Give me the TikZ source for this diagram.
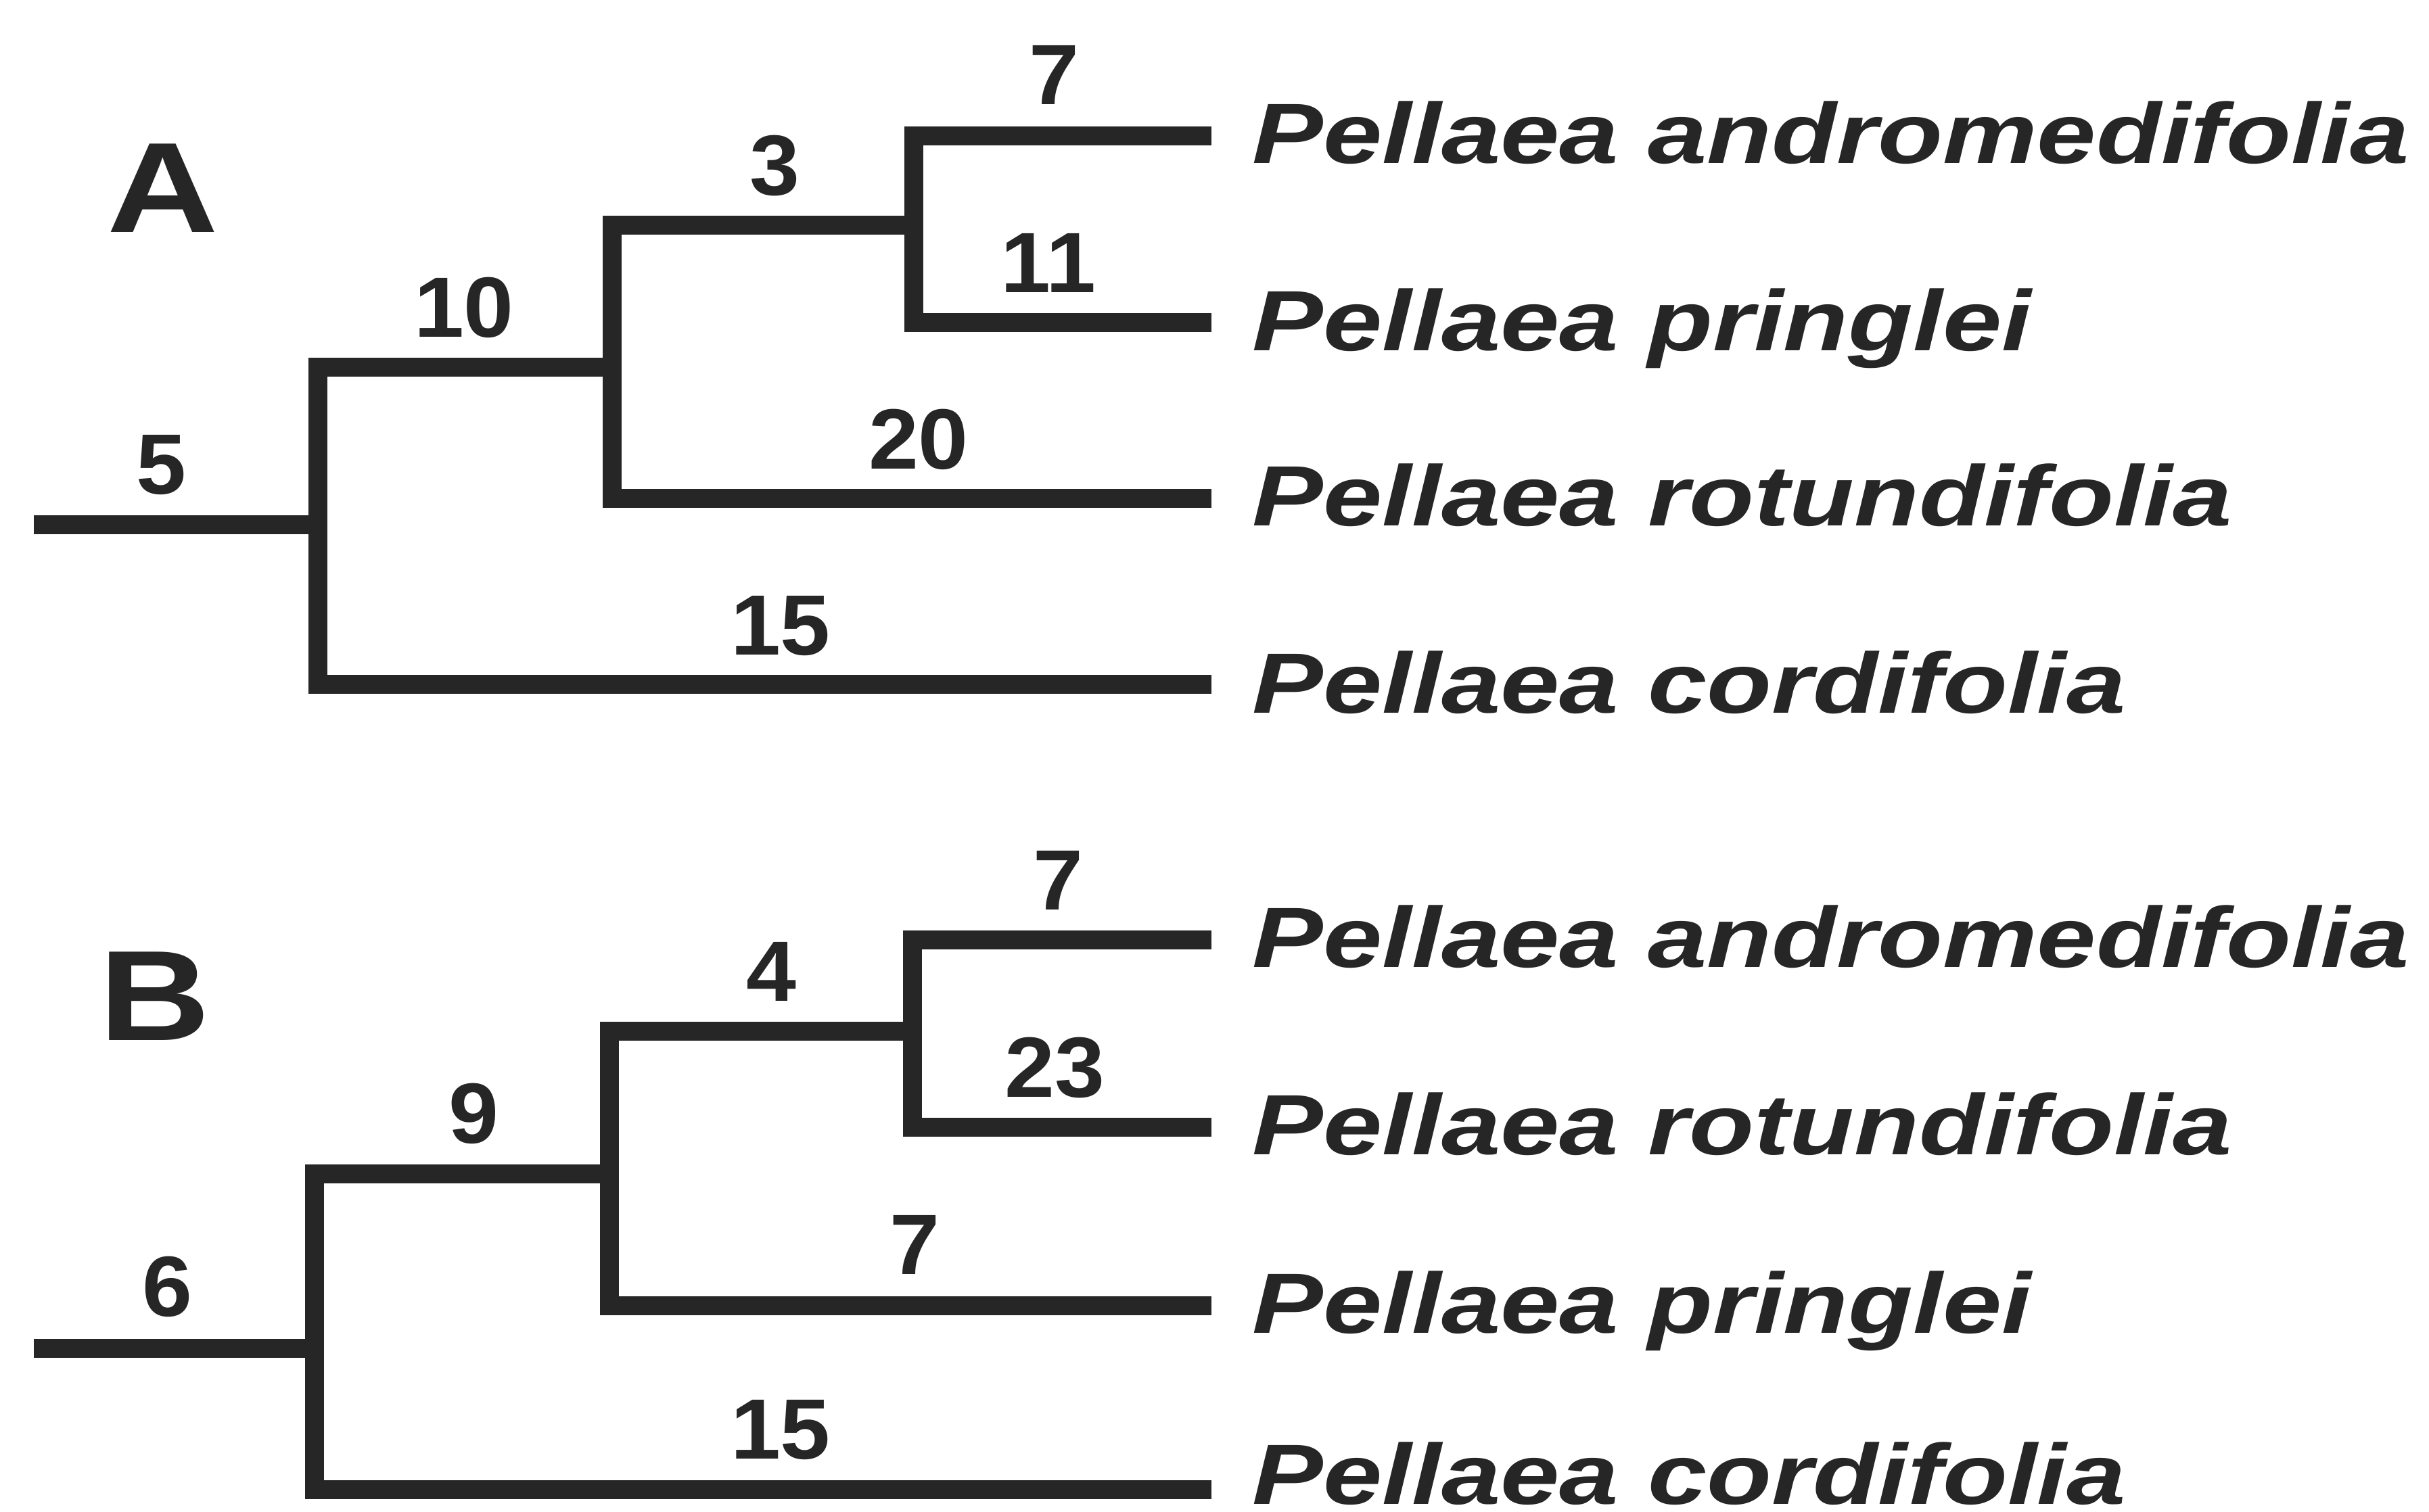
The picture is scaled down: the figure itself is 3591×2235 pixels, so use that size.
\documentclass[tikz,border=0pt]{standalone}
\usepackage{fontspec}
\setmainfont{Liberation Sans}
\newfontfamily\taxfont[FakeStretch=1.24]{Liberation Sans}
\newfontfamily\numfont[FakeStretch=1.05]{Liberation Sans}
\newfontfamily\letfont[FakeStretch=1.2]{Liberation Sans}
\definecolor{ink}{RGB}{38,38,38}
\tikzset{
  branch/.style={draw=ink, line width=8pt, line join=miter, line cap=butt},
  taxon/.style={anchor=base west, inner sep=0pt, text=ink, font=\taxfont\fontsize{36pt}{40pt}\selectfont\bfseries\itshape},
  blen/.style={anchor=base, inner sep=0pt, text=ink, font=\numfont\fontsize{36pt}{40pt}\selectfont\bfseries},
  panel/.style={anchor=base west, inner sep=0pt, text=ink, font=\letfont\fontsize{54pt}{60pt}\selectfont\bfseries}
}
\begin{document}
\begin{tikzpicture}[x=0.01cm, y=-0.01cm]
\useasboundingbox (0,0) rectangle (3591,2235);
\fill[white] (0,0) rectangle (3591,2235);

% ---------- Tree A ----------
\node[panel] (labA) at (158,343) {A};
\coordinate (Ar) at (50,776);
\coordinate (Ax) at (470,776);
\coordinate (Ay) at (905,543);
\coordinate (Az) at (1351,333);
\coordinate (At1) at (1791,201);
\coordinate (At2) at (1791,477);
\coordinate (At3) at (1791,737);
\coordinate (At4) at (1791,1012);
\draw[branch] (Ar) -- (Ax);
\draw[branch] (Ay) -| (Ax) |- (At4);
\draw[branch] (Az) -| (Ay) |- (At3);
\draw[branch] (At1) -| (Az) |- (At2);

\node[taxon] (An1) at (1851,241) {Pellaea andromedifolia};
\node[taxon] (An2) at (1851,518) {Pellaea pringlei};
\node[taxon] (An3) at (1851,777) {Pellaea rotundifolia};
\node[taxon] (An4) at (1851,1054) {Pellaea cordifolia};

\node[blen] (Al1) at (1558,154) {7};
\node[blen] (Al2) at (1145,288) {3};
\node[blen] (Al3) at (1550,432) {11};
\node[blen] (Al4) at (686,498) {10};
\node[blen] (Al5) at (238,730) {5};
\node[blen] (Al6) at (1358,693) {20};
\node[blen] (Al7) at (1154,968) {15};

% ---------- Tree B ----------
\node[panel] (labB) at (146,1538) {B};
\coordinate (Br) at (50,1994);
\coordinate (Bx) at (465,1994);
\coordinate (By) at (901,1736);
\coordinate (Bz) at (1349,1525);
\coordinate (Bt1) at (1791,1390);
\coordinate (Bt2) at (1791,1667);
\coordinate (Bt3) at (1791,1931);
\coordinate (Bt4) at (1791,2203);
\draw[branch] (Br) -- (Bx);
\draw[branch] (By) -| (Bx) |- (Bt4);
\draw[branch] (Bz) -| (By) |- (Bt3);
\draw[branch] (Bt1) -| (Bz) |- (Bt2);

\node[taxon] (Bn1) at (1851,1430) {Pellaea andromedifolia};
\node[taxon] (Bn2) at (1851,1707) {Pellaea rotundifolia};
\node[taxon] (Bn3) at (1851,1971) {Pellaea pringlei};
\node[taxon] (Bn4) at (1851,2224) {Pellaea cordifolia};

\node[blen] (Bl1) at (1564,1345) {7};
\node[blen] (Bl2) at (1140,1480) {4};
\node[blen] (Bl3) at (1559,1622) {23};
\node[blen] (Bl4) at (700,1690) {9};
\node[blen] (Bl5) at (1352,1884) {7};
\node[blen] (Bl6) at (247,1946) {6};
\node[blen] (Bl7) at (1154,2157) {15};
\end{tikzpicture}
\end{document}
